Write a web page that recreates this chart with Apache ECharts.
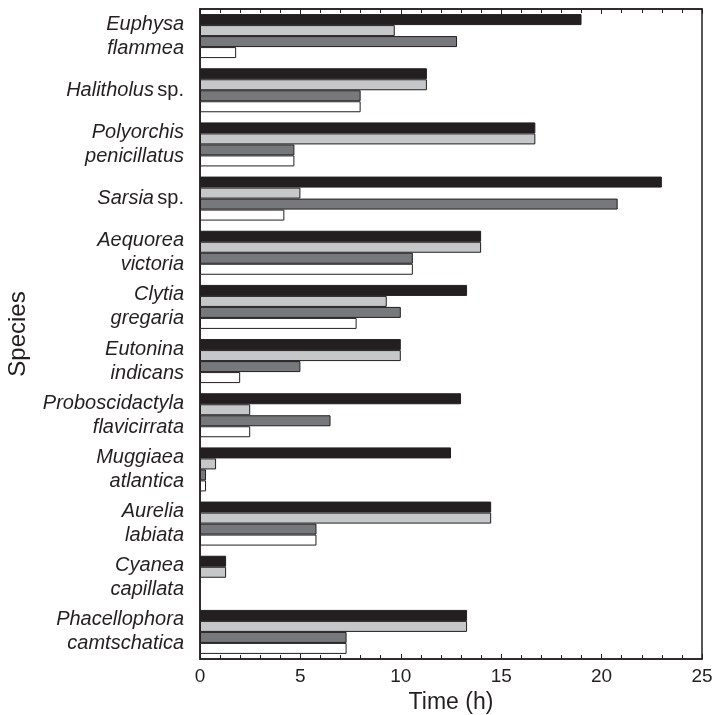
<!DOCTYPE html>
<html>
<head>
<meta charset="utf-8">
<script src="https://cdn.jsdelivr.net/npm/echarts@6/dist/echarts.min.js"></script>
<style>
  html, body { margin: 0; padding: 0; background: #fff; }
  #chart { width: 716px; height: 715px; }
</style>
</head>
<body>
<div id="chart"></div>
<script>
// Species (genus + epithet; "sp." shown upright)
const species = [
  'Euphysa flammea', 'Halitholus sp.', 'Polyorchis penicillatus', 'Sarsia sp.',
  'Aequorea victoria', 'Clytia gregaria', 'Eutonina indicans',
  'Proboscidactyla flavicirrata', 'Muggiaea atlantica', 'Aurelia labiata',
  'Cyanea capillata', 'Phacellophora camtschatica'
];

// Time (h) for each of the four measures, per species
const seriesBlack     = [19.0, 11.3, 16.7, 23.0, 14.0, 13.3, 10.0, 13.0, 12.5, 14.5, 1.3, 13.3];
const seriesLightGray = [9.7, 11.3, 16.7, 5.0, 14.0, 9.3, 10.0, 2.5, 0.8, 14.5, 1.3, 13.3];
const seriesDarkGray  = [12.8, 8.0, 4.7, 20.8, 10.6, 10.0, 5.0, 6.5, 0.3, 5.8, null, 7.3];
const seriesWhite     = [1.8, 8.0, 4.7, 4.2, 10.6, 7.8, 2.0, 2.5, 0.3, 5.8, null, 7.3];

const xTicks = [0, 5, 10, 15, 20, 25];

const FONT = '"Liberation Sans", Arial, Helvetica, sans-serif';
const INK = '#231f20';

function speciesLabel(name) {
  const parts = name.split(' ');
  if (parts[1] === 'sp.') return '{i|' + parts[0] + '} {n|sp.}';
  return '{i|' + parts[0] + '}\n{i|' + parts[1] + '}';
}

const chart = echarts.init(document.getElementById('chart'), null, { renderer: 'canvas' });

const mkSeries = (name, data, fill) => ({
  name: name,
  type: 'bar',
  data: data,
  barWidth: 11,
  barGap: '0%',
  itemStyle: { color: fill, borderColor: INK, borderWidth: 1 },
  animation: false
});

const tickAxis = (pos, showLabels) => ({
  type: 'value',
  position: pos,
  min: xTicks[0],
  max: xTicks[xTicks.length - 1],
  interval: 5,
  name: showLabels ? 'Time (h)' : '',
  nameLocation: 'middle',
  nameGap: 32,
  nameMoveOverlap: false,
  nameTextStyle: { fontFamily: FONT, fontSize: 23, color: INK },
  axisLine: { show: true, lineStyle: { color: INK, width: 1.5 } },
  axisTick: { show: true, inside: true, length: 5, lineStyle: { color: INK, width: 1 } },
  minorTick: { show: true, splitNumber: 5, length: 4, lineStyle: { color: INK, width: 1 } },
  axisLabel: {
    show: showLabels, margin: 8,
    fontFamily: FONT, fontSize: 19, color: INK,
    formatter: (v) => (xTicks.indexOf(v) >= 0 ? String(v) : '')
  },
  splitLine: { show: false }
});

chart.setOption({
  backgroundColor: '#fff',
  animation: false,
  grid: {
    left: 200, right: 14, top: 9, bottom: 56,
    outerBoundsMode: 'none',
    containLabel: false,
    show: true, borderColor: INK, borderWidth: 1.5, backgroundColor: 'transparent'
  },
  xAxis: [tickAxis('bottom', true), tickAxis('top', false)],
  yAxis: {
    type: 'category',
    data: species,
    inverse: true,
    name: 'Species',
    nameLocation: 'middle',
    nameGap: 170,
    nameRotate: 90,
    nameMoveOverlap: false,
    nameTextStyle: { fontFamily: FONT, fontSize: 24, color: INK },
    axisLine: { show: true, lineStyle: { color: INK, width: 1.5 } },
    axisTick: { show: false },
    axisLabel: {
      margin: 16,
      formatter: speciesLabel,
      rich: {
        i: { fontFamily: FONT, fontSize: 20, fontStyle: 'italic', color: INK, lineHeight: 24, align: 'right' },
        n: { fontFamily: FONT, fontSize: 20, color: INK, lineHeight: 24, align: 'right' }
      }
    }
  },
  series: [
    mkSeries('black', seriesBlack, INK),
    mkSeries('light gray', seriesLightGray, '#c6c7c9'),
    mkSeries('dark gray', seriesDarkGray, '#77787b'),
    mkSeries('white', seriesWhite, '#ffffff')
  ]
});
</script>
</body>
</html>
